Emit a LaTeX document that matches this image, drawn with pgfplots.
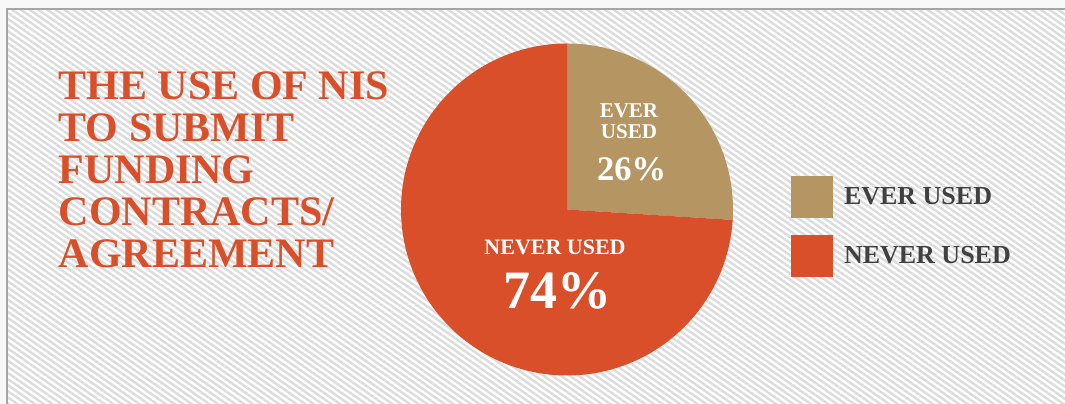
\documentclass[border=0pt]{standalone}
\usepackage{fontspec}
\setmainfont{Liberation Serif}
\usepackage{pgfplots}
\usepackage{pgfplotstable}
\pgfplotsset{compat=1.18}
\usetikzlibrary{patterns.meta}
\definecolor{evercol}{HTML}{B59663}
\definecolor{nevercol}{HTML}{D84F2A}
\definecolor{legtext}{HTML}{404040}
\definecolor{stripe}{HTML}{DCDCDC}
\definecolor{outerbg}{HTML}{F8F8F8}
\pgfplotstableread{
label value
Ever 26
Never 74
}\piedata
\pgfplotstablegetelem{0}{value}\of\piedata \let\everval\pgfplotsretval
\pgfplotstablegetelem{1}{value}\of\piedata \let\neverval\pgfplotsretval
\pgfmathsetmacro\angA{90-3.6*\everval}
\pgfmathsetmacro\angB{\angA-3.6*\neverval}
\begin{document}
\begin{tikzpicture}
\useasboundingbox (0,0) rectangle (1065bp,404bp);
\fill[outerbg] (0,0) rectangle (1065bp,404bp);
\fill[white] (7bp,0) rectangle (1065bp,395bp);
\fill[pattern={Lines[angle=-35,distance=5bp,line width=2.4bp]}, pattern color=stripe] (7bp,0) rectangle (1065bp,395bp);
\draw[black!35, line width=1.3bp] (7bp,0) -- (7bp,395bp) -- (1065bp,395bp);
\node[anchor=north west, inner sep=0pt, align=left, text=nevercol,
      font=\fontsize{42bp}{42bp}\selectfont\bfseries] at (58.5bp,332.5bp)
      {THE USE OF NIS\\TO SUBMIT\\FUNDING\\CONTRACTS/\\AGREEMENT};
\begin{axis}[
  at={(567bp,194.5bp)}, anchor=center,
  x=166bp, y=166bp,
  xmin=-1, xmax=1, ymin=-1, ymax=1,
  hide axis, clip=false,
  legend cell align=left,
  legend image code/.code={\fill[#1] (0bp,-21bp) rectangle (42bp,21bp);},
  legend style={at={(1.1747,0.601)}, anchor=north west, draw=none, fill=none,
     inner sep=0pt, outer sep=0pt, row sep=17bp, column sep=11bp,
     font=\fontsize{26bp}{26bp}\selectfont\bfseries, text=legtext,
     nodes={inner sep=0pt}},
]
\addplot[fill=evercol, draw=none, domain=90:\angA, samples=120, variable=\t]
  ({cos(\t)},{sin(\t)}) -- (axis cs:0,0) -- cycle;
\addlegendentry{EVER USED}
\addplot[fill=nevercol, draw=none, domain=\angA:\angB, samples=240, variable=\t]
  ({cos(\t)},{sin(\t)}) -- (axis cs:0,0) -- cycle;
\addlegendentry{NEVER USED}
\node[text=white, align=center, inner sep=0pt,
      font=\fontsize{21bp}{21.7bp}\selectfont\bfseries] at (axis cs:0.373,0.531) {EVER\\USED};
\node[text=white, inner sep=0pt,
      font=\fontsize{34.5bp}{34.5bp}\selectfont\bfseries] at (axis cs:0.389,0.244) {\everval\%};
\node[text=white, inner sep=0pt,
      font=\fontsize{22bp}{22bp}\selectfont\bfseries] at (axis cs:-0.072,-0.231) {NEVER USED};
\node[text=white, inner sep=0pt,
      font=\fontsize{54bp}{54bp}\selectfont\bfseries] at (axis cs:-0.06,-0.491) {\neverval\%};
\end{axis}
\end{tikzpicture}
\end{document}
